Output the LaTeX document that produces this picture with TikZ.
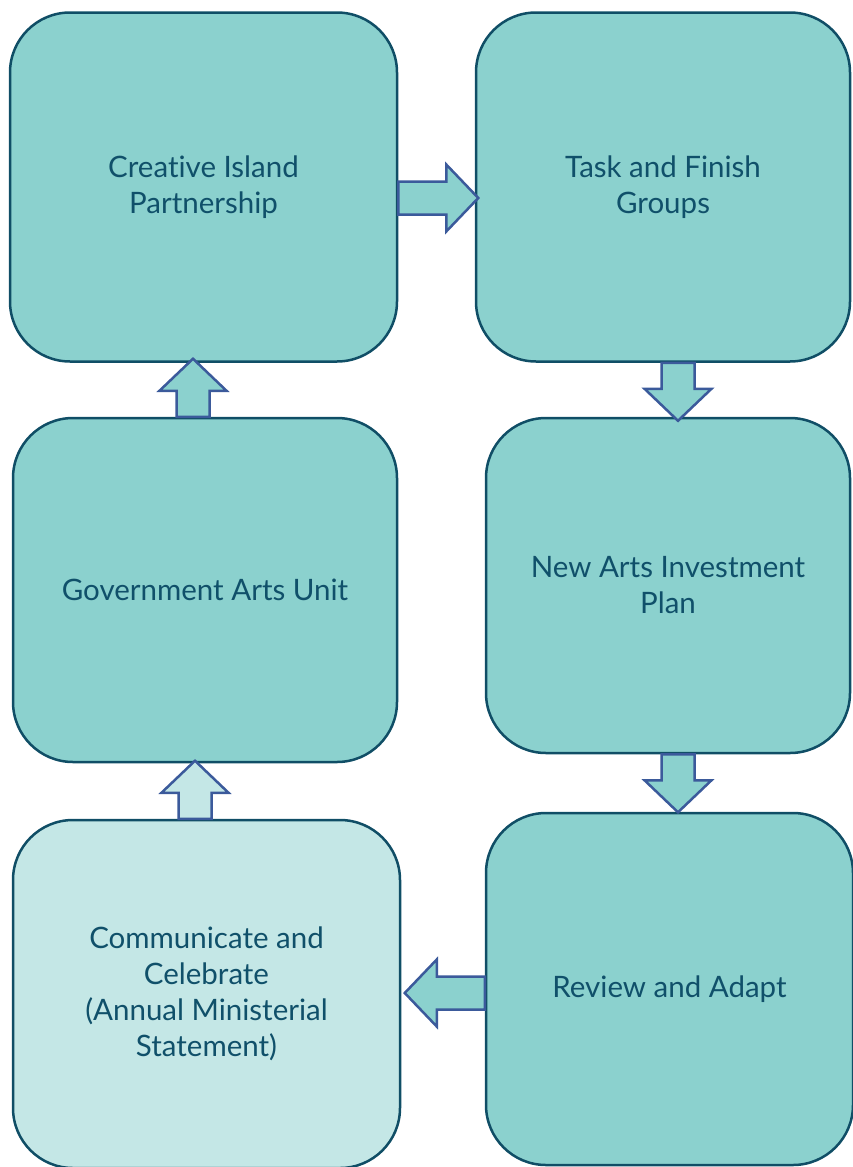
\documentclass[tikz,border=0pt]{standalone}
\usepackage{fontspec}
\setmainfont{Lato}[Ligatures=NoCommon]
\usetikzlibrary{calc}

\definecolor{boxfill}{HTML}{8BD1CE}
\definecolor{boxlight}{HTML}{C4E7E6}
\definecolor{boxline}{HTML}{104E66}
\definecolor{arrowline}{HTML}{3B5A9B}
\definecolor{boxtext}{HTML}{10506A}

\begin{document}
\begin{tikzpicture}[
    x=1pt, y=-1pt,
    stage/.style={rectangle,draw=boxline,line width=2.5pt,fill=boxfill,
        rounded corners=60pt,inner sep=0pt,align=center,text=boxtext,
        font=\fontsize{29.5}{36}\selectfont},
    laststage/.style={stage,fill=boxlight},
    fat/.style={draw=arrowline,line width=2.5pt,line join=miter},
    pics/blockarrow/.style={code={
        % shaft half width 16.5, head half width 33.5, head length 32
        \draw[fat,fill=#1] (0,-16.5) -- ({\arrowlen-32},-16.5) -- ({\arrowlen-32},-33.5)
            -- (\arrowlen,0) -- ({\arrowlen-32},33.5) -- ({\arrowlen-32},16.5)
            -- (0,16.5) -- cycle;
    }},
    ]
\def\arrowlen{58} % Length of the vertical arrows
\useasboundingbox (0,0) rectangle (852,1167);

    %% The six stages of the cycle
    \node[stage,minimum width=387pt,minimum height=349pt] (cip) at (203.5,187)
        {Creative Island\\Partnership};
    \node[stage,minimum width=374pt,minimum height=349pt] (tfg) at (663,187)
        {Task and Finish\\Groups};
    \node[stage,minimum width=384pt,minimum height=344pt] (gau) at (205,590)
        {Government Arts Unit};
    \node[stage,minimum width=364pt,minimum height=335pt] (naip) at (668,585.5)
        {New Arts Investment\\Plan};
    \node[laststage,minimum width=387pt,minimum height=348pt] (comm) at (206.5,994)
        {Communicate and\\Celebrate\\(Annual Ministerial\\Statement)};
    \node[stage,minimum width=367pt,minimum height=352pt] (review) at (669.5,989)
        {Review and Adapt};

    %% Block arrows between the stages
    \pic[rotate=-90] at ($(tfg.south)+(15,0)$) {blockarrow=boxfill};
    \pic[rotate=-90] at ($(naip.south)+(10,0)$) {blockarrow=boxfill};
    \pic[rotate=90] at ($(gau.north)+(-12,0)$) {blockarrow=boxfill};
    \pic[rotate=90] at ($(comm.north)+(-11.5,0)$) {blockarrow=boxlight};
    % Horizontal arrows are longer
    {\def\arrowlen{80}
        \pic at ($(cip.east)+(0,11)$) {blockarrow=boxfill};
        \pic[rotate=180] at ($(review.west)+(0,4)$) {blockarrow=boxfill};
    }
    %%
\end{tikzpicture}
\end{document}
